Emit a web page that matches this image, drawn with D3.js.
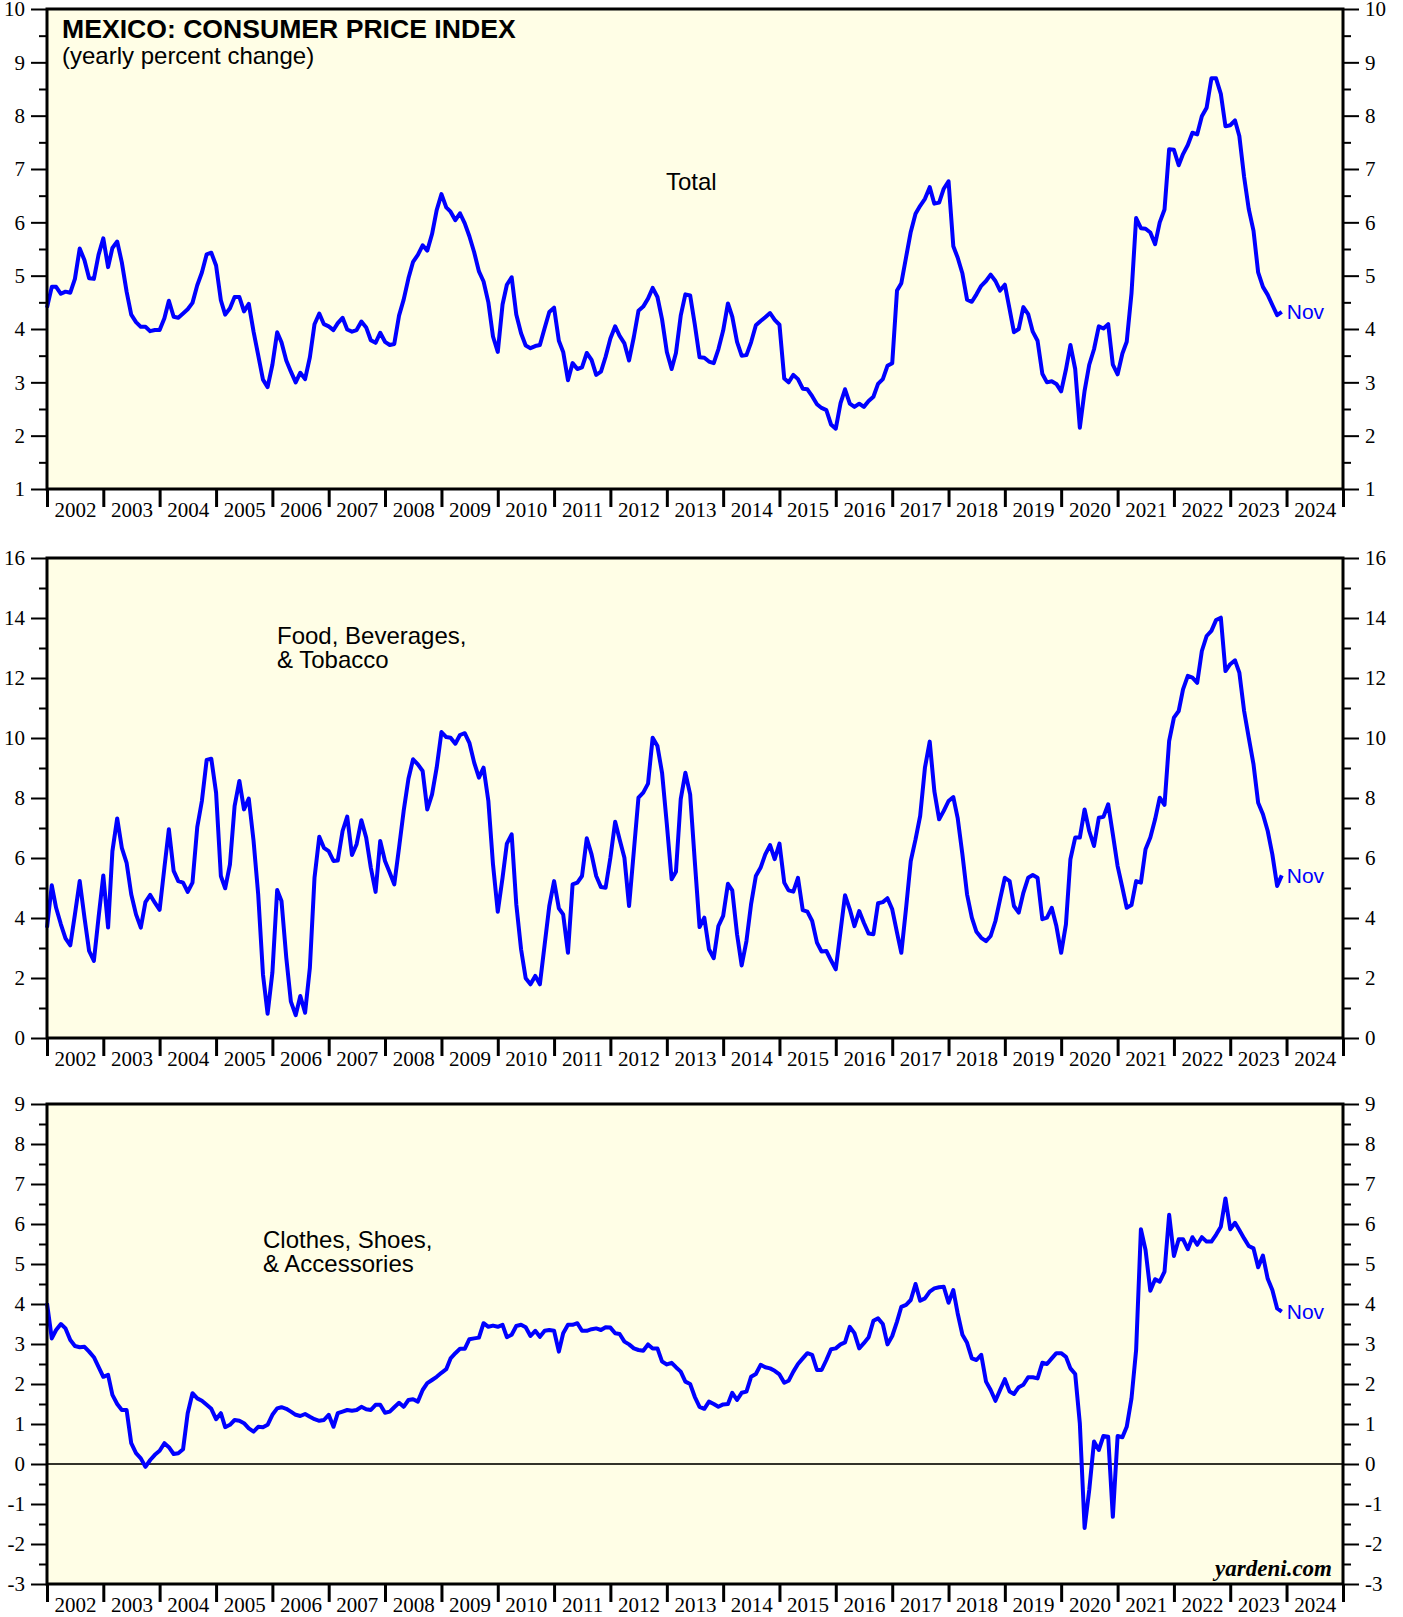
<!DOCTYPE html>
<html>
<head>
<meta charset="utf-8">
<script src="https://cdn.jsdelivr.net/npm/d3@7"></script>
<style>
  body { margin: 0; background: #fff; }
  .tick text { font-family: "Liberation Serif", "Times New Roman", serif; font-size: 21px; fill: #000; }
  .lbl { font-family: "Liberation Sans", Arial, sans-serif; fill: #000; }
</style>
</head>
<body>
<svg id="main"></svg>
<script>

// monthly readings, Dec 2001 .. Nov 2023 (yearly % change)
var total = [4.40,
  4.79,4.79,4.66,4.70,4.68,4.94,5.51,5.29,4.95,4.94,5.39,5.70,
  5.16,5.52,5.64,5.25,4.70,4.27,4.13,4.04,4.04,3.96,3.98,3.98,
  4.20,4.53,4.23,4.21,4.29,4.37,4.49,4.82,5.06,5.40,5.43,5.19,
  4.54,4.27,4.39,4.60,4.60,4.33,4.47,3.95,3.51,3.05,2.91,3.33,
  3.94,3.75,3.41,3.20,3.00,3.18,3.06,3.47,4.09,4.29,4.09,4.05,
  3.98,4.11,4.21,3.99,3.95,3.98,4.14,4.03,3.79,3.74,3.93,3.76,
  3.70,3.72,4.25,4.55,4.95,5.26,5.39,5.57,5.47,5.78,6.23,6.53,
  6.28,6.20,6.04,6.17,5.98,5.74,5.44,5.08,4.89,4.50,3.86,3.57,
  4.46,4.83,4.97,4.27,3.92,3.69,3.64,3.68,3.70,4.02,4.32,4.40,
  3.78,3.57,3.04,3.36,3.25,3.28,3.55,3.42,3.14,3.20,3.48,3.82,
  4.05,3.87,3.73,3.41,3.85,4.34,4.42,4.57,4.77,4.60,4.18,3.57,
  3.25,3.55,4.25,4.65,4.63,4.09,3.47,3.46,3.39,3.36,3.62,3.97,
  4.48,4.23,3.76,3.50,3.51,3.75,4.07,4.15,4.22,4.30,4.17,4.08,
  3.07,3.00,3.14,3.06,2.88,2.87,2.74,2.59,2.52,2.48,2.21,2.13,
  2.61,2.87,2.60,2.54,2.60,2.54,2.65,2.73,2.97,3.06,3.31,3.36,
  4.72,4.86,5.35,5.82,6.16,6.31,6.44,6.66,6.35,6.37,6.63,6.77,
  5.55,5.34,5.04,4.55,4.51,4.65,4.81,4.90,5.02,4.90,4.72,4.83,
  4.37,3.94,4.00,4.41,4.28,3.95,3.78,3.16,3.00,3.02,2.97,2.83,
  3.24,3.70,3.25,2.15,2.84,3.33,3.62,4.05,4.01,4.09,3.33,3.15,
  3.54,3.76,4.67,6.08,5.89,5.88,5.81,5.59,6.00,6.24,7.37,7.36,
  7.07,7.28,7.45,7.68,7.65,7.99,8.15,8.70,8.70,8.41,7.80,7.82,
  7.91,7.62,6.85,6.25,5.84,5.06,4.79,4.64,4.45,4.26,4.32];

var food = [3.68,
  5.09,4.34,3.79,3.32,3.09,4.12,5.23,4.01,2.90,2.57,4.01,5.42,
  3.68,6.23,7.32,6.34,5.84,4.79,4.12,3.68,4.53,4.77,4.51,4.27,
  5.68,6.96,5.57,5.23,5.18,4.87,5.18,7.03,7.90,9.27,9.31,8.18,
  5.40,4.99,5.79,7.73,8.57,7.62,7.98,6.57,4.79,2.12,0.81,2.18,
  4.93,4.57,2.68,1.21,0.76,1.40,0.84,2.34,5.34,6.71,6.34,6.23,
  5.90,5.92,6.90,7.38,6.10,6.46,7.26,6.68,5.68,4.87,6.57,5.90,
  5.51,5.12,6.34,7.57,8.64,9.29,9.12,8.90,7.62,8.12,9.01,10.20,
  10.03,10.01,9.81,10.10,10.16,9.84,9.18,8.68,9.01,7.90,5.79,4.21,
  5.34,6.48,6.79,4.46,2.96,1.99,1.79,2.07,1.79,3.12,4.40,5.23,
  4.32,4.12,2.84,5.12,5.18,5.40,6.66,6.12,5.40,5.03,5.01,6.01,
  7.21,6.62,6.01,4.40,6.23,8.01,8.18,8.48,10.01,9.73,8.84,7.12,
  5.29,5.54,7.96,8.84,8.12,5.90,3.70,4.01,2.96,2.66,3.73,4.07,
  5.14,4.92,3.46,2.42,3.23,4.46,5.40,5.68,6.12,6.43,5.96,6.48,
  5.18,4.92,4.88,5.34,4.26,4.21,3.90,3.18,2.88,2.90,2.59,2.29,
  3.57,4.76,4.29,3.73,4.23,3.84,3.48,3.46,4.49,4.53,4.66,4.29,
  3.51,2.84,4.34,5.90,6.62,7.40,9.01,9.88,8.23,7.29,7.57,7.90,
  8.03,7.34,6.12,4.79,4.01,3.54,3.34,3.23,3.40,3.90,4.62,5.34,
  5.23,4.40,4.18,4.84,5.34,5.43,5.34,3.96,4.01,4.34,3.73,2.84,
  3.79,5.96,6.68,6.68,7.62,6.90,6.40,7.34,7.37,7.79,6.79,5.73,
  5.01,4.34,4.43,5.23,5.18,6.29,6.68,7.29,8.01,7.77,9.90,10.68,
  10.90,11.62,12.07,12.01,11.84,12.90,13.40,13.57,13.93,14.01,12.23,12.46,
  12.59,12.18,10.90,10.01,9.12,7.84,7.46,6.90,6.12,5.07,5.42];

var clothes = [4.02,
  3.14,3.35,3.50,3.39,3.10,2.95,2.92,2.93,2.81,2.67,2.43,2.18,
  2.23,1.73,1.50,1.35,1.35,0.52,0.27,0.14,-0.07,0.10,0.23,0.33,
  0.52,0.42,0.25,0.27,0.37,1.27,1.77,1.64,1.58,1.48,1.38,1.12,
  1.27,0.92,0.98,1.10,1.08,1.02,0.89,0.81,0.93,0.92,0.98,1.23,
  1.39,1.42,1.38,1.31,1.23,1.20,1.25,1.18,1.12,1.08,1.10,1.23,
  0.93,1.27,1.31,1.35,1.33,1.35,1.43,1.37,1.35,1.48,1.48,1.28,
  1.31,1.42,1.53,1.43,1.60,1.62,1.56,1.85,2.02,2.10,2.18,2.28,
  2.37,2.64,2.77,2.88,2.88,3.12,3.14,3.16,3.52,3.43,3.46,3.43,
  3.48,3.17,3.23,3.45,3.48,3.42,3.20,3.33,3.18,3.33,3.35,3.33,
  2.81,3.27,3.48,3.48,3.52,3.33,3.33,3.37,3.39,3.35,3.42,3.41,
  3.27,3.25,3.06,2.99,2.89,2.85,2.83,2.99,2.89,2.89,2.56,2.49,
  2.53,2.42,2.31,2.06,2.00,1.68,1.43,1.38,1.56,1.50,1.43,1.49,
  1.50,1.78,1.60,1.78,1.81,2.18,2.25,2.48,2.42,2.39,2.33,2.24,
  2.03,2.08,2.31,2.50,2.64,2.77,2.73,2.35,2.35,2.60,2.87,2.89,
  2.99,3.04,3.43,3.27,2.89,3.02,3.17,3.58,3.64,3.50,2.99,3.20,
  3.56,3.93,3.98,4.10,4.50,4.08,4.14,4.31,4.39,4.42,4.43,4.03,
  4.35,3.77,3.23,3.03,2.64,2.60,2.73,2.06,1.85,1.58,1.85,2.12,
  1.81,1.75,1.92,1.98,2.17,2.17,2.14,2.53,2.50,2.64,2.77,2.77,
  2.68,2.39,2.25,1.02,-1.60,-0.65,0.56,0.35,0.70,0.68,-1.32,0.70,
  0.67,0.93,1.64,2.85,5.87,5.35,4.33,4.62,4.56,4.81,6.23,5.20,
  5.62,5.62,5.37,5.67,5.48,5.67,5.56,5.56,5.73,5.93,6.64,5.87,
  6.03,5.85,5.64,5.45,5.39,4.92,5.21,4.63,4.35,3.89,3.81];

var years = d3.range(2002, 2025);
var lastMonth = 'Nov';

var chart = {
  width: 1403,
  height: 1617,
  left: 47,
  right: 1343,
  bg: '#fffee6',
  line: '#0000ff'
};

var panels = [
  { values: total, top: 9, bottom: 489, domain: [1, 10], major: 1, minor: 0.5,
    label: ['Total'], lx: 666, ly: 190 },
  { values: food, top: 558, bottom: 1038, domain: [0, 16], major: 2, minor: 1,
    label: ['Food, Beverages,', '& Tobacco'], lx: 277, ly: 644 },
  { values: clothes, top: 1104, bottom: 1584, domain: [-3, 9], major: 1, minor: 0.5,
    label: ['Clothes, Shoes,', '& Accessories'], lx: 263, ly: 1248, zero: true }
];

var svg = d3.select('#main')
  .attr('width', chart.width)
  .attr('height', chart.height);

svg.append('rect')
  .attr('width', chart.width).attr('height', chart.height)
  .attr('fill', '#fff');

// Dec 2001 value sits on the Jan 1 2002 gridline, and so on (end of month)
function monthDate(i) { return new Date(2002, i, 1); }

var x = d3.scaleTime()
  .domain([new Date(2002, 0, 1), new Date(2025, 0, 1)])
  .range([chart.left, chart.right]);

panels.forEach(function(p) {
  var y = d3.scaleLinear().domain(p.domain).range([p.bottom, p.top]);
  var g = svg.append('g');

  g.append('rect')
    .attr('x', chart.left).attr('y', p.top)
    .attr('width', chart.right - chart.left).attr('height', p.bottom - p.top)
    .attr('fill', chart.bg);

  var majors = d3.range(p.domain[0], p.domain[1] + 0.001, p.major);
  var minors = d3.range(p.domain[0] + p.minor, p.domain[1], p.major);

  // y axes, both sides (plain hyphen for negatives, like the original)
  [['left', d3.axisLeft, chart.left], ['right', d3.axisRight, chart.right]].forEach(function(a) {
    var maj = g.append('g').attr('transform', 'translate(' + a[2] + ',0)')
      .call(a[1](y).tickValues(majors).tickSize(16).tickPadding(6)
        .tickFormat(function(d) { return String(Math.round(d)); }));
    var mi = g.append('g').attr('transform', 'translate(' + a[2] + ',0)')
      .call(a[1](y).tickValues(minors).tickSize(8).tickFormat(''));
    [maj, mi].forEach(function(s) {
      s.select('.domain').remove();
      s.selectAll('line').attr('stroke', '#000').attr('stroke-width', 2);
    });
  });

  // year ticks and labels
  var xt = g.append('g').attr('transform', 'translate(0,' + p.bottom + ')')
    .call(d3.axisBottom(x).tickValues(years.concat([2025]).map(function(yr) { return new Date(yr, 0, 1); }))
      .tickSize(18).tickFormat(''));
  xt.select('.domain').remove();
  xt.selectAll('line').attr('stroke', '#000').attr('stroke-width', 3);

  var xl = g.append('g').attr('transform', 'translate(0,' + p.bottom + ')')
    .call(d3.axisBottom(x).tickValues(years.map(function(yr) { return new Date(yr, 6, 2); }))
      .tickSize(0).tickPadding(13).tickFormat(d3.timeFormat('%Y')));
  xl.select('.domain').remove();

  if (p.zero) {
    g.append('line')
      .attr('x1', chart.left).attr('x2', chart.right)
      .attr('y1', y(0)).attr('y2', y(0))
      .attr('stroke', '#33332a').attr('stroke-width', 1.8);
  }

  var line = d3.line()
    .x(function(d, i) { return x(monthDate(i)); })
    .y(function(d) { return y(d); });

  g.append('path')
    .datum(p.values)
    .attr('d', line)
    .attr('fill', 'none')
    .attr('stroke', chart.line)
    .attr('stroke-width', 4)
    .attr('stroke-linejoin', 'round');

  var n = p.values.length - 1;
  g.append('text')
    .attr('class', 'lbl')
    .attr('x', x(monthDate(n)) + 5)
    .attr('y', y(p.values[n]))
    .attr('dy', '0.36em')
    .attr('font-size', 21)
    .style('fill', chart.line)
    .text(lastMonth);

  p.label.forEach(function(t, k) {
    g.append('text')
      .attr('class', 'lbl')
      .attr('x', p.lx).attr('y', p.ly + k * 24)
      .attr('font-size', 24)
      .text(t);
  });

  g.append('rect')
    .attr('x', chart.left).attr('y', p.top)
    .attr('width', chart.right - chart.left).attr('height', p.bottom - p.top)
    .attr('fill', 'none').attr('stroke', '#000').attr('stroke-width', 3);
});

svg.append('text')
  .attr('class', 'lbl')
  .attr('x', 62).attr('y', 38)
  .attr('font-size', 26.6).attr('font-weight', 'bold')
  .text('MEXICO: CONSUMER PRICE INDEX');

svg.append('text')
  .attr('class', 'lbl')
  .attr('x', 62).attr('y', 64)
  .attr('font-size', 24)
  .text('(yearly percent change)');

svg.append('text')
  .attr('x', 1332).attr('y', 1576)
  .attr('text-anchor', 'end')
  .attr('font-family', '"Liberation Serif", "Times New Roman", serif')
  .attr('font-size', 23).attr('font-weight', 'bold').attr('font-style', 'italic')
  .text('yardeni.com');

</script>
</body>
</html>
